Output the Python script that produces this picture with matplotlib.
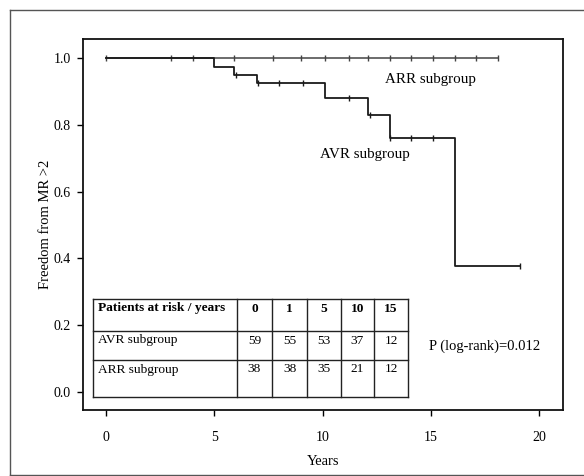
import matplotlib
matplotlib.use("Agg")
import matplotlib.pyplot as plt
from matplotlib.lines import Line2D

plt.rcParams['font.family'] = ['Liberation Serif', 'DejaVu Serif']

# ---- data ----
arr_times = [0, 18.1]
arr_surv = [1.0, 1.0]
arr_censor = [0, 3.0, 4.0, 5.9, 7.7, 9.0, 10.1, 11.2, 12.1, 13.1, 14.1, 15.1, 16.1, 17.1, 18.1]

avr_event_times = [0, 5.0, 5.9, 6.95, 10.1, 12.1, 13.1, 16.1]
avr_surv = [1.0, 0.975, 0.95, 0.925, 0.882, 0.83, 0.762, 0.378]
avr_end = 19.1
avr_censor = [6.0, 7.0, 8.0, 9.1, 11.2, 12.2, 13.1, 14.1, 15.1, 19.1]

table_header = ["Patients at risk / years", "0", "1", "5", "10", "15"]
table_rows = [
    ["AVR subgroup", "59", "55", "53", "37", "12"],
    ["ARR subgroup", "38", "38", "35", "21", "12"],
]
pvalue_text = "P (log-rank)=0.012"

xticks = [0, 5, 10, 15, 20]
yticks = [0.0, 0.2, 0.4, 0.6, 0.8, 1.0]


def step_value(times, surv, t):
    v = surv[0]
    for ti, si in zip(times, surv):
        if ti <= t:
            v = si
    return v


fig = plt.figure(figsize=(5.84, 4.76), dpi=100)
ax = fig.add_axes([83/584, 1-410/476, 480/584, 370.7/476])

lc_arr = '#444444'
lc_avr = '#1a1a1a'

# ARR curve
ax.step(arr_times, arr_surv, where='post', color=lc_arr, lw=1.1)
ax.plot(arr_censor, [step_value(arr_times, arr_surv, t) for t in arr_censor],
        ls='none', marker='|', ms=5, mew=1.0, color=lc_arr)

# AVR curve
avr_x = avr_event_times + [avr_end]
avr_y = avr_surv + [avr_surv[-1]]
ax.step(avr_x, avr_y, where='post', color=lc_avr, lw=1.3)
ax.plot(avr_censor, [step_value(avr_event_times, avr_surv, t) for t in avr_censor],
        ls='none', marker='|', ms=5, mew=1.0, color=lc_avr)

ax.set_xlim(-1.06, 21.1)
ax.set_ylim(-0.055, 1.057)
ax.set_xticks(xticks)
ax.set_xticklabels([str(v) for v in xticks])
ax.set_yticks(yticks)
ax.set_yticklabels([f"{v:.1f}" for v in yticks])
ax.tick_params(axis='x', direction='out', length=4, width=1, pad=11, labelsize=10)
ax.tick_params(axis='y', direction='out', length=4, width=1, pad=5, labelsize=10)
for s in ax.spines.values():
    s.set_linewidth(1.3)
    s.set_color('#111111')

ax.set_xlabel("Years", fontsize=10.5, labelpad=8)
ax.set_ylabel("Freedom from MR >2", fontsize=10.5, labelpad=1)

# curve labels
ax.text(12.9, 0.935, "ARR subgroup", fontsize=10.8, va='center', ha='left')
ax.text(9.9, 0.71, "AVR subgroup", fontsize=10.8, va='center', ha='left')
ax.text(14.9, 0.137, pvalue_text, fontsize=10.5, va='center', ha='left')

# number-at-risk table (axes-fraction layout)
col_edges = [(p - 83) / 480 for p in [93, 237, 272, 307, 341, 374, 408]]
row_edges = [(410 - p) / 370.7 for p in [299, 331, 360, 397]]
tcol = '#222222'
for xe in col_edges:
    ax.plot([xe, xe], [row_edges[-1], row_edges[0]], transform=ax.transAxes,
            color=tcol, lw=1.0, clip_on=False)
for ye in row_edges:
    ax.plot([col_edges[0], col_edges[-1]], [ye, ye], transform=ax.transAxes,
            color=tcol, lw=1.0, clip_on=False)

all_rows = [table_header] + table_rows
for r, row in enumerate(all_rows):
    ytop = row_edges[r] - 9.5 / 370.7
    for c, txt in enumerate(row):
        weight = 'bold' if r == 0 else 'normal'
        if c == 0:
            ax.text(col_edges[0] + 5/480, ytop, txt, transform=ax.transAxes,
                    ha='left', va='center', fontsize=9.6, fontweight=weight)
        else:
            xc = (col_edges[c] + col_edges[c + 1]) / 2
            ax.text(xc, ytop, txt, transform=ax.transAxes,
                    ha='center', va='center', fontsize=9.6, fontweight=weight)

# outer scan frame
for (x0, y0, x1, y1) in [(10, 10, 584, 10), (10, 10, 10, 475), (10, 475, 584, 475)]:
    fig.add_artist(Line2D([x0/584, x1/584], [1 - y0/476, 1 - y1/476],
                          transform=fig.transFigure, color='#555555', lw=1.0))

fig.savefig("out.png", dpi=100)
